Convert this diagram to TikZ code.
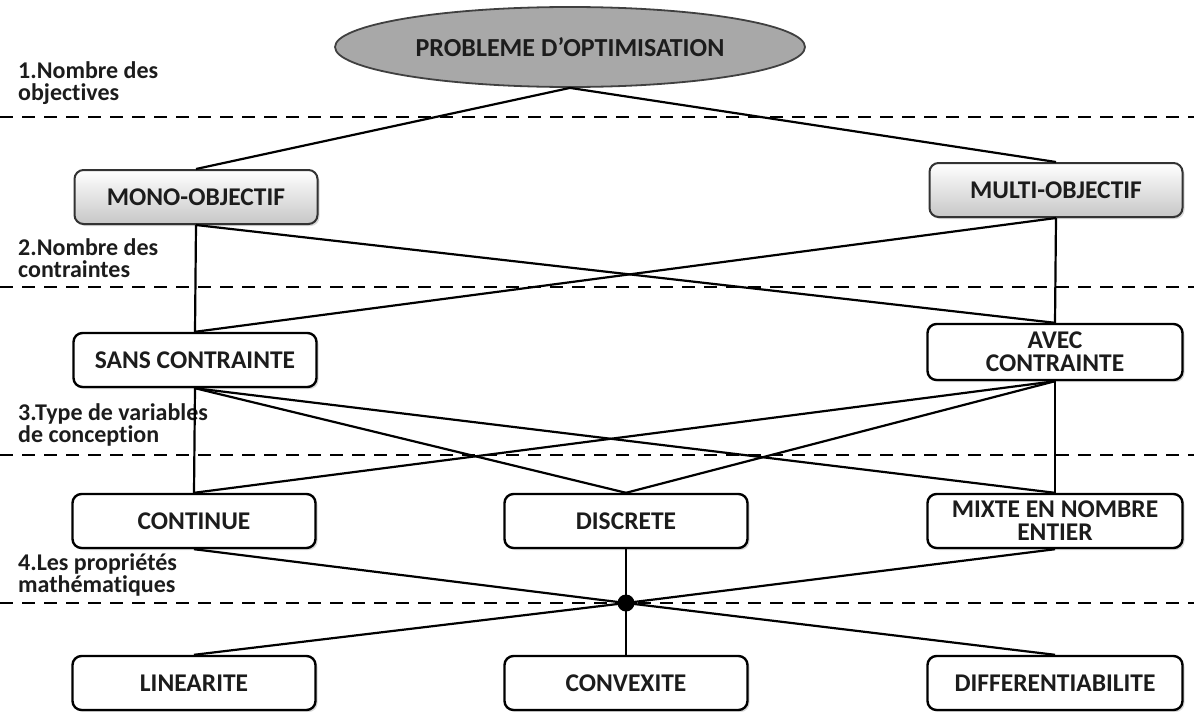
\documentclass[tikz,border=0pt]{standalone}
\usepackage{fontspec}
\setmainfont{Carlito}[Ligatures=NoCommon]
\usetikzlibrary{shapes.geometric,shadows}
\definecolor{ovalgray}{RGB}{168,168,168}
\definecolor{inktext}{RGB}{28,28,28}
\begin{document}
\begin{tikzpicture}[x=1pt,y=-1pt,
  box/.style={draw=black, line width=2.4pt, rounded corners=9pt, fill=white,
    minimum width=243pt, minimum height=54pt, align=center, inner sep=2pt,
    font=\bfseries\fontsize{25.5}{23}\selectfont, text=inktext,
    drop shadow={opacity=0.3, shadow xshift=2pt, shadow yshift=-2pt}},
  shadedbox/.style={box, top color=white, bottom color=black!22, draw=black!80, line width=2pt},
  link/.style={line width=2.2pt, black},
  level/.style={line width=2.4pt, dash pattern=on 13pt off 9pt},
  steplabel/.style={anchor=west, align=left, inner sep=0pt, text=inktext,
    font=\bfseries\fontsize{24}{22}\selectfont}
]
\useasboundingbox (0,0) rectangle (1194,712);

% level separators
\foreach \yy in {117,287,455,603}
  \draw[level] (0,\yy) -- (1194,\yy);

% level captions
\node[steplabel] (cap1) at (18,83) {1.Nombre des\\objectives};
\node[steplabel] (cap2) at (18,258) {2.Nombre des\\contraintes};
\node[steplabel] (cap3) at (18,425) {3.Type de variables\\de conception};
\node[steplabel] (cap4) at (18,575) {4.Les propriétés\\mathématiques};

% nodes
\node[ellipse, draw=black!75, line width=1.8pt, fill=ovalgray,
      minimum width=470pt, minimum height=80pt, inner sep=0pt,
      font=\bfseries\fontsize{26}{26}\selectfont, text=inktext]
      (root) at (570,47) {PROBLEME D’OPTIMISATION};

\node[shadedbox] (mono)  at (196,197) {MONO-OBJECTIF};
\node[shadedbox, minimum width=253pt] (multi) at (1056,190) {MULTI-OBJECTIF};

\node[box] (sans) at (195,360) {SANS CONTRAINTE};
\node[box, minimum width=255pt, minimum height=56pt] (avec) at (1055,352) {AVEC\\CONTRAINTE};

\node[box] (cont)  at (194,521) {CONTINUE};
\node[box] (disc)  at (626,521) {DISCRETE};
\node[box, minimum width=255pt] (mixte) at (1055,521) {MIXTE EN NOMBRE\\ENTIER};

\node[circle, fill=black, inner sep=0pt, minimum size=17pt] (hub) at (626,603) {};

\node[box] (lin)  at (194,683) {LINEARITE};
\node[box] (conv) at (626,683) {CONVEXITE};
\node[box, minimum width=255pt] (diff) at (1055,683) {DIFFERENTIABILITE};

% connectors
\draw[link] (root.south) -- (mono.north);
\draw[link] (root.south) -- (multi.north);

\draw[link] (mono.south) -- (sans.north);
\draw[link] (mono.south) -- (avec.north);
\draw[link] (multi.south) -- (sans.north);
\draw[link] (multi.south) -- (avec.north);

\draw[link] (sans.south) -- (cont.north);
\draw[link] (sans.south) -- (disc.north);
\draw[link] (sans.south) -- (mixte.north);
\draw[link] (avec.south) -- (cont.north);
\draw[link] (avec.south) -- (disc.north);
\draw[link] (avec.south) -- (mixte.north);

\draw[link] (cont.south) -- (hub.center);
\draw[link] (disc.south) -- (hub.center);
\draw[link] (mixte.south) -- (hub.center);
\draw[link] (hub.center) -- (lin.north);
\draw[link] (hub.center) -- (conv.north);
\draw[link] (hub.center) -- (diff.north);
\end{tikzpicture}
\end{document}
